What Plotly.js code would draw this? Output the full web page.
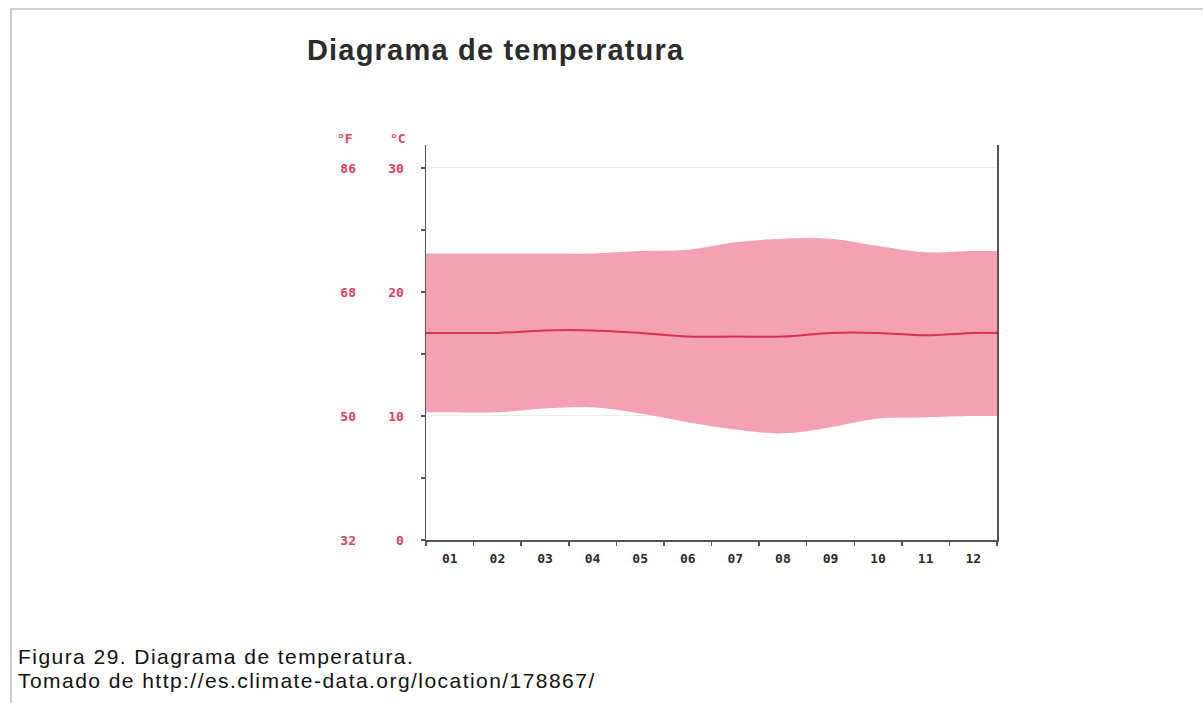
<!DOCTYPE html>
<html>
<head>
<meta charset="utf-8">
<script src="https://cdn.plot.ly/plotly-3.0.1.min.js"></script>
<style>
  html, body { margin: 0; padding: 0; background: #fff; }
  #wrap { position: relative; width: 1203px; height: 703px; overflow: hidden; }
  #frame { position: absolute; left: 10px; top: 8px; width: 1300px; height: 800px;
           border-left: 2px solid #cfcfcf; border-top: 2px solid #cfcfcf; pointer-events: none; }
  #chart { position: absolute; left: 0; top: 0; width: 1203px; height: 703px; }
  #chart .gtitle { letter-spacing: 1.2px; }
  #chart .annotation.caption text { letter-spacing: 1.45px; }
</style>
</head>
<body>
<div id="wrap">
  <div id="chart"></div>
  <div id="frame"></div>
</div>
<script>
// Data (°C)
const months = ['01','02','03','04','05','06','07','08','09','10','11','12'];
const tempMax  = [23.1, 23.1, 23.1, 23.1, 23.3, 23.4, 24.0, 24.3, 24.3, 23.7, 23.2, 23.3];
const tempMin  = [10.3, 10.3, 10.6, 10.7, 10.2, 9.5, 8.9, 8.6, 9.1, 9.8, 9.9, 10.0];
const tempMean = [16.7, 16.7, 16.9, 16.9, 16.7, 16.4, 16.4, 16.4, 16.7, 16.7, 16.5, 16.7];
const celsiusTicks = [0, 10, 20, 30];
const fahrenheitTicks = [32, 50, 68, 86];

// Band reaches the plot edges: extend first/last values to the boundaries
const idx = months.map((m, i) => i);
const xs = [-0.5].concat(idx, [months.length - 0.5]);
const pad = a => [a[0]].concat(a, [a[a.length - 1]]);

const yMax = 31.85;
const red = '#e0405c';
const monoFont = 'DejaVu Sans Mono, monospace';
const captionLeft = 18;

const traces = [
  { x: xs, y: pad(tempMin), type: 'scatter', mode: 'lines',
    line: { width: 0, shape: 'spline', color: 'rgba(0,0,0,0)' }, hoverinfo: 'skip', showlegend: false },
  { x: xs, y: pad(tempMax), type: 'scatter', mode: 'lines', fill: 'tonexty',
    fillcolor: '#f3a1b3', line: { width: 0, shape: 'spline', color: 'rgba(0,0,0,0)' }, showlegend: false },
  { x: xs, y: pad(tempMean), type: 'scatter', mode: 'lines',
    line: { width: 2, shape: 'spline', color: '#d8324f' }, showlegend: false },
  { x: [null], y: [null], yaxis: 'y2', type: 'scatter', mode: 'lines', showlegend: false, hoverinfo: 'skip' }
];

const layout = {
  width: 1203, height: 703,
  margin: { l: 426, r: 206, t: 145, b: 163 },
  paper_bgcolor: 'rgba(0,0,0,0)', plot_bgcolor: '#fff',
  showlegend: false,
  title: { text: '<b>Diagrama de temperatura</b>', xref: 'container', yref: 'container',
           x: 0.412, xanchor: 'center', y: 0.929, yanchor: 'middle',
           font: { family: 'Liberation Sans, Arial, sans-serif', size: 29, color: '#2b2b2b' } },
  xaxis: {
    range: [-0.5, 11.5], tickmode: 'array', tickvals: idx, ticktext: months,
    ticks: '', showgrid: false, zeroline: false,
    showline: true, linecolor: '#555', linewidth: 1.5,
    tickfont: { family: monoFont, size: 13, color: '#2b2b2b', weight: 'bold' },
    ticklabelstandoff: 6,
    minor: { ticks: 'outside', tick0: -0.5, dtick: 1, ticklen: 4, tickcolor: '#555', tickwidth: 1.5, showgrid: false }
  },
  yaxis: {
    range: [0, yMax], tickmode: 'array', tickvals: celsiusTicks, ticktext: celsiusTicks.map(String),
    ticks: 'outside', ticklen: 4, tickcolor: '#555', tickwidth: 1.5,
    showgrid: true, gridcolor: '#ececec', gridwidth: 1, zeroline: false,
    showline: true, linecolor: '#555', linewidth: 1.5, mirror: true,
    tickfont: { family: monoFont, size: 13, color: red, weight: 'bold' },
    ticklabelstandoff: 14,
    minor: { ticks: 'outside', tick0: 5, dtick: 10, ticklen: 4, tickcolor: '#555', tickwidth: 1.5, showgrid: false }
  },
  yaxis2: {
    overlaying: 'y', side: 'left', anchor: 'x',
    range: [32, 32 + yMax * 1.8], tickmode: 'array', tickvals: fahrenheitTicks, ticktext: fahrenheitTicks.map(String),
    ticks: '', showgrid: false, zeroline: false, showline: false,
    tickfont: { family: monoFont, size: 13, color: red, weight: 'bold' },
    ticklabelstandoff: 69
  },
  annotations: [
    { text: '<b>°F</b>', xref: 'paper', yref: 'paper', x: (345 - 426) / 571, y: (540 - 139) / 395,
      xanchor: 'center', yanchor: 'middle', showarrow: false, font: { family: monoFont, size: 13, color: red } },
    { text: '<b>°C</b>', xref: 'paper', yref: 'paper', x: (398 - 426) / 571, y: (540 - 139) / 395,
      xanchor: 'center', yanchor: 'middle', showarrow: false, font: { family: monoFont, size: 13, color: red } },
    { text: 'Figura 29. Diagrama de temperatura.', xref: 'paper', yref: 'paper', name: 'caption',
      x: (captionLeft - 426) / 571, y: (540 - 656) / 395, xanchor: 'left', yanchor: 'middle', showarrow: false,
      font: { family: 'Liberation Sans, Arial, sans-serif', size: 21, color: '#111' } },
    { text: 'Tomado de http://es.climate-data.org/location/178867/', xref: 'paper', yref: 'paper', name: 'caption',
      x: (captionLeft - 426) / 571, y: (540 - 680) / 395, xanchor: 'left', yanchor: 'middle', showarrow: false,
      font: { family: 'Liberation Sans, Arial, sans-serif', size: 21, color: '#111' } }
  ]
};

Plotly.newPlot('chart', traces, layout, { displayModeBar: false, staticPlot: true }).then(() => {
  const host = document.getElementById('chart').getBoundingClientRect();
  document.querySelectorAll('#chart .annotation').forEach((g, i) => {
    if (i < 2) return;
    g.classList.add('caption');
    const t = g.querySelector('text');
    const bb = t.getBoundingClientRect();
    const shift = captionLeft - (bb.left - host.left);
    t.setAttribute('x', parseFloat(t.getAttribute('x') || 0) + shift);
  });
});
</script>
</body>
</html>
